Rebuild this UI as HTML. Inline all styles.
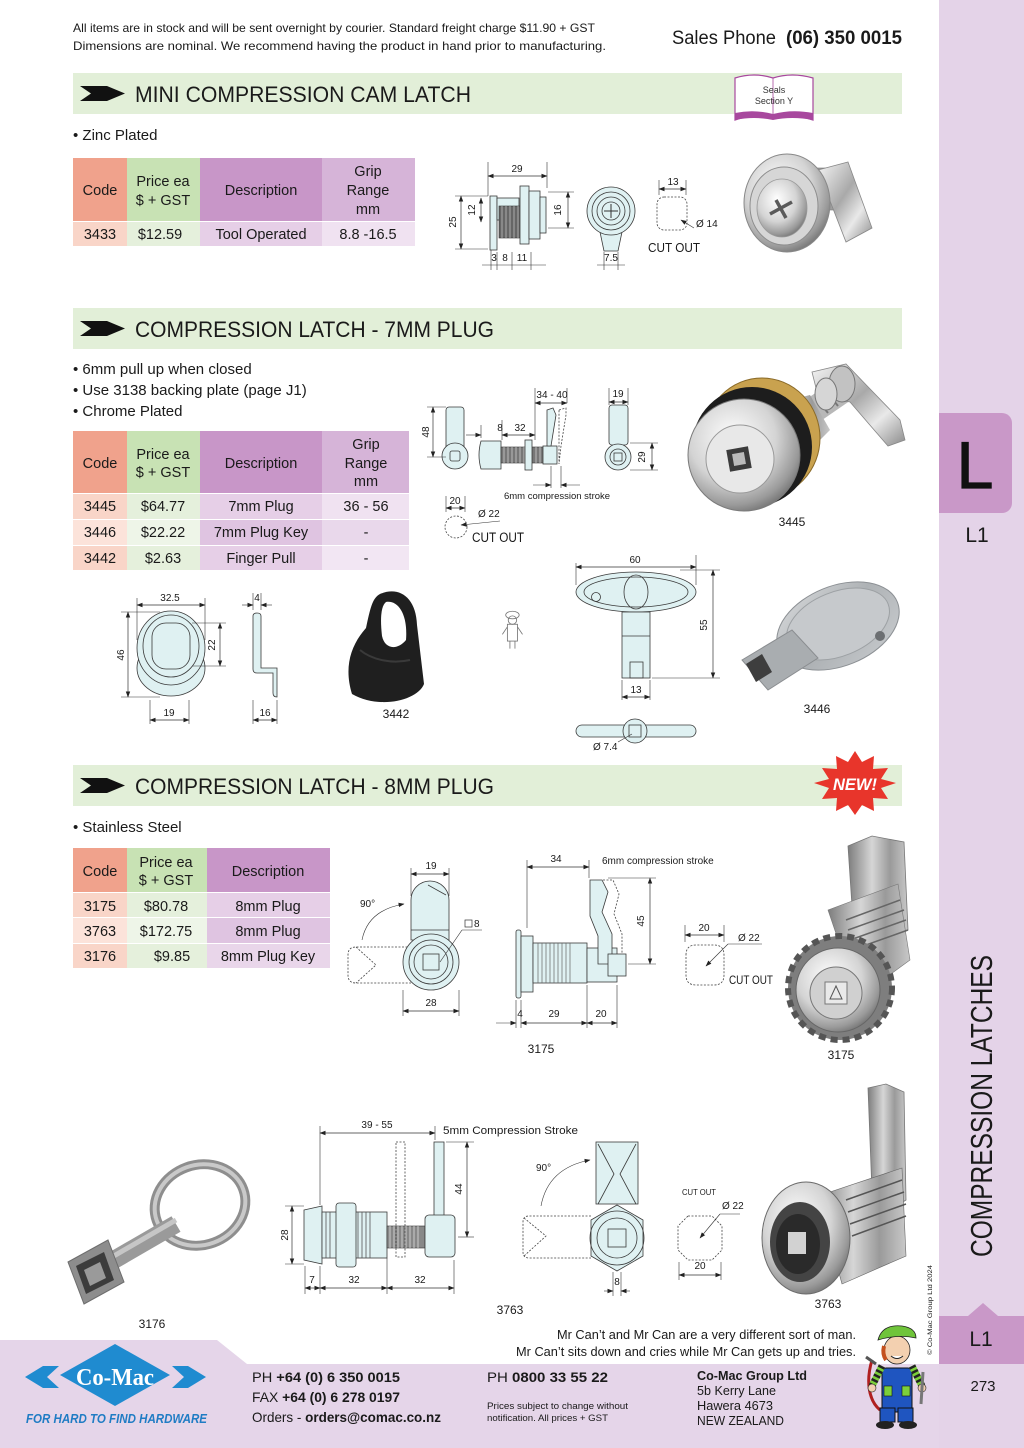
<!DOCTYPE html>
<html><head><meta charset="utf-8"><style>
html,body{margin:0;padding:0;background:#fff}
svg{display:block}
text{font-family:"Liberation Sans",sans-serif;fill:#1a1a1a}
.d{fill:#dff1f2;stroke:#3a3a3a;stroke-width:0.8}
.dn{fill:none;stroke:#3a3a3a;stroke-width:0.8}
.ds{fill:none;stroke:#444;stroke-width:0.8;stroke-dasharray:2 1.5}
.l{stroke:#333;stroke-width:0.6;fill:none}
.m{stroke:#333;stroke-width:0.7;fill:none;marker-start:url(#ar);marker-end:url(#ar)}
.t{font-size:10px}
.th{font-size:14.5px;text-anchor:middle}
</style></head><body>
<svg width="1024" height="1448" viewBox="0 0 1024 1448" xmlns="http://www.w3.org/2000/svg">
<defs>
<marker id="ar" markerWidth="6" markerHeight="6" refX="5.5" refY="3" orient="auto-start-reverse" markerUnits="userSpaceOnUse"><path d="M0,0.8 L6,3 L0,5.2z" fill="#222"/></marker>
<linearGradient id="ch" x1="0" y1="0" x2="1" y2="1"><stop offset="0" stop-color="#f6f6f6"/><stop offset="0.45" stop-color="#a9a9a9"/><stop offset="0.7" stop-color="#e9e9e9"/><stop offset="1" stop-color="#8a8a8a"/></linearGradient>
<radialGradient id="cr" cx="0.4" cy="0.35" r="0.7"><stop offset="0" stop-color="#ffffff"/><stop offset="0.55" stop-color="#d4d4d4"/><stop offset="0.85" stop-color="#9a9a9a"/><stop offset="1" stop-color="#707070"/></radialGradient>
<linearGradient id="st" x1="0" y1="0" x2="1" y2="0"><stop offset="0" stop-color="#7d7d7d"/><stop offset="0.4" stop-color="#d6d6d6"/><stop offset="0.7" stop-color="#9a9a9a"/><stop offset="1" stop-color="#c8c8c8"/></linearGradient>
<linearGradient id="zn" x1="0" y1="0" x2="1" y2="1"><stop offset="0" stop-color="#d8dadc"/><stop offset="0.5" stop-color="#aeb2b5"/><stop offset="1" stop-color="#c9cccf"/></linearGradient>
</defs>

<rect width="1024" height="1448" fill="#fff"/>
<!-- sidebar -->
<rect x="939" y="0" width="85" height="1448" fill="#e4d3e8"/>
<rect x="939" y="413" width="73" height="100" rx="10" fill="#c998c8"/>
<rect x="939" y="413" width="20" height="100" fill="#c998c8"/>
<text x="975" y="488" font-size="66" text-anchor="middle" style="fill:#111;stroke:#111;stroke-width:1.2">L</text>
<text x="977" y="542" font-size="21" text-anchor="middle">L1</text>
<text transform="translate(992,1106) rotate(-90)" font-size="31" text-anchor="middle" textLength="302" lengthAdjust="spacingAndGlyphs">COMPRESSION LATCHES</text>
<rect x="939" y="1316" width="85" height="48" fill="#c998c8"/>
<polygon points="968,1316 983,1303 998,1316" fill="#c998c8"/>
<text x="981" y="1346" font-size="21" text-anchor="middle">L1</text>
<text x="983" y="1391" font-size="15" text-anchor="middle">273</text>

<!-- footer -->
<polygon points="0,1340 217,1340 247,1364 939,1364 939,1448 0,1448" fill="#e5d5e9"/>

<!-- header -->
<text x="73" y="32" font-size="12" textLength="522" lengthAdjust="spacingAndGlyphs">All items are in stock and will be sent overnight by courier. Standard freight charge $11.90 + GST</text>
<text x="73" y="50" font-size="12" textLength="533" lengthAdjust="spacingAndGlyphs">Dimensions are nominal. We recommend having the product in hand prior to manufacturing.</text>
<text x="672" y="44" font-size="19" textLength="104" lengthAdjust="spacingAndGlyphs">Sales Phone</text>
<text x="786" y="44" font-size="19" font-weight="bold" textLength="116" lengthAdjust="spacingAndGlyphs">(06) 350 0015</text>

<!-- Section bars -->
<rect x="73" y="73" width="829" height="41" fill="#e2efd8"/>
<polygon points="80,86 107,86 125,93.5 107,101 80,101 91,93.5" fill="#111"/>
<text x="135" y="102" font-size="22" textLength="336" lengthAdjust="spacingAndGlyphs">MINI COMPRESSION CAM LATCH</text>
<rect x="73" y="308" width="829" height="41" fill="#e2efd8"/>
<polygon points="80,321 107,321 125,328.5 107,336 80,336 91,328.5" fill="#111"/>
<text x="135" y="337" font-size="22" textLength="359" lengthAdjust="spacingAndGlyphs">COMPRESSION LATCH - 7MM PLUG</text>
<rect x="73" y="765" width="829" height="41" fill="#e2efd8"/>
<polygon points="80,778 107,778 125,785.5 107,793 80,793 91,785.5" fill="#111"/>
<text x="135" y="794" font-size="22" textLength="359" lengthAdjust="spacingAndGlyphs">COMPRESSION LATCH - 8MM PLUG</text>

<!-- Seals book -->
<path d="M735,78 Q754,72 773,78 Q792,72 813,78 L813,120 Q792,113 773,119 Q754,113 735,120 Z" fill="#fff" stroke="#a8489e" stroke-width="1.2"/>
<path d="M735,113 Q754,109 773,114 Q792,109 813,113 L813,120 Q792,116 773,120 Q754,116 735,120 Z" fill="#a8489e"/>
<line x1="773" y1="78" x2="773" y2="118" stroke="#a8489e" stroke-width="0.8"/>
<text x="774" y="93" font-size="9" text-anchor="middle" style="fill:#333">Seals</text>
<text x="774" y="104" font-size="9" text-anchor="middle" style="fill:#333">Section Y</text>

<!-- NEW star -->
<polygon fill="#e8352b" points="855,751 862,762 874,756 873,769 888,768 881,779 896,783 881,788 888,799 873,798 874,811 862,805 855,815 848,805 836,811 837,798 822,799 829,788 814,783 829,779 822,768 837,769 836,756 848,762"/>
<text x="855" y="790" font-size="17" font-weight="bold" font-style="italic" text-anchor="middle" style="fill:#fff" textLength="44" lengthAdjust="spacingAndGlyphs">NEW!</text>

<!-- bullets -->
<text x="73" y="140" font-size="15">• Zinc Plated</text>
<text x="73" y="374" font-size="15">• 6mm pull up when closed</text>
<text x="73" y="395" font-size="15">• Use 3138 backing plate (page J1)</text>
<text x="73" y="416" font-size="15">• Chrome Plated</text>
<text x="73" y="832" font-size="15">• Stainless Steel</text>

<!-- Table 1 -->
<rect x="73" y="158" width="54" height="63" fill="#f0a28c"/>
<rect x="127" y="158" width="73" height="63" fill="#c8e2b4"/>
<rect x="200" y="158" width="122" height="63" fill="#c896c8"/>
<rect x="322" y="158" width="93" height="63" fill="#d6b4d8"/>
<rect x="73" y="222" width="54" height="24" fill="#f9d5c8"/>
<rect x="127" y="222" width="73" height="24" fill="#e5f0dc"/>
<rect x="200" y="222" width="122" height="24" fill="#e6cfe7"/>
<rect x="322" y="222" width="93" height="24" fill="#f0e2f1"/>
<text class="th" x="100" y="195">Code</text>
<text class="th" x="163" y="186">Price ea</text>
<text class="th" x="163" y="205">$ + GST</text>
<text class="th" x="261" y="195">Description</text>
<text class="th" x="368" y="176">Grip</text>
<text class="th" x="368" y="195">Range</text>
<text class="th" x="368" y="214">mm</text>
<text class="th" x="100" y="239">3433</text>
<text class="th" x="160" y="239">$12.59</text>
<text class="th" x="261" y="239">Tool Operated</text>
<text class="th" x="368" y="239">8.8 -16.5</text>

<!-- Table 2 -->
<rect x="73" y="431" width="54" height="62" fill="#f0a28c"/>
<rect x="127" y="431" width="73" height="62" fill="#c8e2b4"/>
<rect x="200" y="431" width="122" height="62" fill="#c896c8"/>
<rect x="322" y="431" width="87" height="62" fill="#d6b4d8"/>
<rect x="73" y="494" width="54" height="25" fill="#f9d5c8"/>
<rect x="127" y="494" width="73" height="25" fill="#e5f0dc"/>
<rect x="200" y="494" width="122" height="25" fill="#e6cfe7"/>
<rect x="322" y="494" width="87" height="25" fill="#f0e2f1"/>
<rect x="73" y="520" width="54" height="25" fill="#fce3da"/>
<rect x="127" y="520" width="73" height="25" fill="#eef5e8"/>
<rect x="200" y="520" width="122" height="25" fill="#dfc4e1"/>
<rect x="322" y="520" width="87" height="25" fill="#e9d8eb"/>
<rect x="73" y="546" width="54" height="24" fill="#f9d5c8"/>
<rect x="127" y="546" width="73" height="24" fill="#e5f0dc"/>
<rect x="200" y="546" width="122" height="24" fill="#e6cfe7"/>
<rect x="322" y="546" width="87" height="24" fill="#f2e6f3"/>
<text class="th" x="100" y="468">Code</text>
<text class="th" x="163" y="459">Price ea</text>
<text class="th" x="163" y="477">$ + GST</text>
<text class="th" x="261" y="468">Description</text>
<text class="th" x="366" y="449">Grip</text>
<text class="th" x="366" y="468">Range</text>
<text class="th" x="366" y="486">mm</text>
<text class="th" x="100" y="511">3445</text>
<text class="th" x="163" y="511">$64.77</text>
<text class="th" x="261" y="511">7mm Plug</text>
<text class="th" x="366" y="511">36 - 56</text>
<text class="th" x="100" y="537">3446</text>
<text class="th" x="163" y="537">$22.22</text>
<text class="th" x="261" y="537">7mm Plug Key</text>
<text class="th" x="366" y="537">-</text>
<text class="th" x="100" y="563">3442</text>
<text class="th" x="163" y="563">$2.63</text>
<text class="th" x="261" y="563">Finger Pull</text>
<text class="th" x="366" y="563">-</text>

<!-- Table 3 -->
<rect x="73" y="848" width="54" height="44" fill="#f0a28c"/>
<rect x="127" y="848" width="80" height="44" fill="#c8e2b4"/>
<rect x="207" y="848" width="123" height="44" fill="#c896c8"/>
<rect x="73" y="893" width="54" height="24" fill="#f9d5c8"/>
<rect x="127" y="893" width="80" height="24" fill="#e5f0dc"/>
<rect x="207" y="893" width="123" height="24" fill="#e6cfe7"/>
<rect x="73" y="918" width="54" height="25" fill="#fce3da"/>
<rect x="127" y="918" width="80" height="25" fill="#eef5e8"/>
<rect x="207" y="918" width="123" height="25" fill="#dfc4e1"/>
<rect x="73" y="944" width="54" height="24" fill="#f9d5c8"/>
<rect x="127" y="944" width="80" height="24" fill="#e5f0dc"/>
<rect x="207" y="944" width="123" height="24" fill="#e9d6ea"/>
<text class="th" x="100" y="876">Code</text>
<text class="th" x="166" y="867">Price ea</text>
<text class="th" x="166" y="885">$ + GST</text>
<text class="th" x="268" y="876">Description</text>
<text class="th" x="100" y="911">3175</text>
<text class="th" x="166" y="911">$80.78</text>
<text class="th" x="268" y="911">8mm Plug</text>
<text class="th" x="100" y="936">3763</text>
<text class="th" x="166" y="936">$172.75</text>
<text class="th" x="268" y="936">8mm Plug</text>
<text class="th" x="100" y="961">3176</text>
<text class="th" x="172" y="961">$9.85</text>
<text class="th" x="268" y="961">8mm Plug Key</text>

<!-- ===== Section 1 drawings ===== -->
<g>
<line class="l" x1="488" y1="162" x2="488" y2="196"/><line class="l" x1="547" y1="162" x2="547" y2="188"/>
<line class="m" x1="488" y1="176" x2="547" y2="176"/>
<text class="t" x="517" y="172" text-anchor="middle">29</text>
<rect class="d" x="490" y="196" width="7" height="54"/>
<rect class="d" x="497" y="198" width="22" height="22"/>
<rect x="499" y="206" width="22" height="32" fill="#666" stroke="#333" stroke-width="0.6"/>
<path d="M502,206v32M506,206v32M510,206v32M514,206v32M518,206v32" stroke="#bbb" stroke-width="0.8"/>
<rect class="d" x="520" y="186" width="9" height="58"/>
<rect class="d" x="529" y="191" width="11" height="48"/>
<rect class="d" x="540" y="197" width="6" height="36"/>
<line class="l" x1="455" y1="196" x2="488" y2="196"/><line class="l" x1="455" y1="249" x2="488" y2="249"/>
<line class="m" x1="461" y1="196" x2="461" y2="249"/>
<text class="t" transform="translate(456,222) rotate(-90)" text-anchor="middle">25</text>
<line class="m" x1="481" y1="198" x2="481" y2="222"/>
<text class="t" transform="translate(475,210) rotate(-90)" text-anchor="middle">12</text>
<line class="l" x1="548" y1="192" x2="574" y2="192"/><line class="l" x1="548" y1="228" x2="574" y2="228"/>
<line class="m" x1="568" y1="192" x2="568" y2="228"/>
<text class="t" transform="translate(561,210) rotate(-90)" text-anchor="middle">16</text>
<line class="l" x1="491" y1="250" x2="491" y2="270"/><line class="l" x1="497" y1="252" x2="497" y2="270"/><line class="l" x1="512" y1="252" x2="512" y2="270"/><line class="l" x1="531" y1="252" x2="531" y2="270"/>
<line class="l" x1="482" y1="265" x2="546" y2="265"/>
<text class="t" x="494" y="261" text-anchor="middle">3</text>
<text class="t" x="505" y="261" text-anchor="middle">8</text>
<text class="t" x="522" y="261" text-anchor="middle">11</text>
<!-- front view -->
<polygon class="d" points="600,232 622,232 618,251 604,251"/>
<circle class="d" cx="611" cy="211" r="24"/>
<circle class="dn" cx="611" cy="211" r="19"/>
<circle class="dn" cx="611" cy="211" r="14"/>
<circle class="dn" cx="611" cy="211" r="9"/>
<path d="M611,204v14M604,211h14" stroke="#333" stroke-width="1"/>
<line class="l" x1="604" y1="252" x2="604" y2="270"/><line class="l" x1="618" y1="252" x2="618" y2="270"/>
<line class="l" x1="597" y1="265" x2="625" y2="265"/>
<text class="t" x="611" y="261" text-anchor="middle">7.5</text>
<!-- cutout -->
<path class="ds" d="M664,197 h16 a7,7 0 0 1 7,7 v19 a7,7 0 0 1 -7,7 h-16 a7,7 0 0 1 -7,-7 v-19 a7,7 0 0 1 7,-7z"/>
<line class="l" x1="659" y1="180" x2="659" y2="195"/><line class="l" x1="686" y1="180" x2="686" y2="195"/>
<line class="m" x1="659" y1="189" x2="686" y2="189"/>
<text class="t" x="673" y="185" text-anchor="middle">13</text>
<line class="l" x1="681" y1="220" x2="694" y2="228" marker-start="url(#ar)"/>
<text class="t" x="696" y="227">Ø 14</text>
<text x="648" y="252" font-size="13" textLength="52" lengthAdjust="spacingAndGlyphs">CUT OUT</text>
<!-- photo cam latch -->
<rect x="812" y="168" width="30" height="42" fill="#9d9d9d" stroke="#777" stroke-width="0.6"/>
<path d="M812,175h30M812,183h30M812,191h30M812,199h30" stroke="#555" stroke-width="2"/>
<polygon points="818,170 848,162 872,228 846,242" fill="url(#ch)" stroke="#888" stroke-width="0.8"/>
<ellipse cx="787" cy="203" rx="43" ry="49" fill="url(#cr)" stroke="#888" stroke-width="1"/>
<ellipse cx="784" cy="206" rx="34" ry="39" fill="#d6d6d6" stroke="#8d8d8d" stroke-width="1"/>
<ellipse cx="782" cy="208" rx="25" ry="29" fill="url(#cr)" stroke="#999" stroke-width="0.8"/>
<path d="M770,214 L792,202 M776,200 L786,218" stroke="#5a5a5a" stroke-width="3.5"/>
</g>

<!-- ===== Section 2 drawings ===== -->
<g>
<!-- front view -->
<rect class="d" x="446" y="407" width="18" height="44" rx="3"/>
<circle class="d" cx="455" cy="456" r="13"/>
<rect class="dn" x="450" y="451" width="10" height="10" rx="2"/>
<line class="l" x1="427" y1="407" x2="446" y2="407"/><line class="l" x1="427" y1="457" x2="446" y2="457"/>
<line class="m" x1="433" y1="407" x2="433" y2="457"/>
<text class="t" transform="translate(429,432) rotate(-90)" text-anchor="middle">48</text>
<!-- side view -->
<path class="d" d="M481,441 h20 v28 h-20 q-4,-14 0,-28z"/>
<rect x="501" y="447" width="45" height="16" fill="#777" stroke="#333" stroke-width="0.6"/>
<path d="M504,447v16M508,447v16M512,447v16M516,447v16M520,447v16M524,447v16M536,447v16M540,447v16" stroke="#ccc" stroke-width="0.8"/>
<rect class="d" x="525" y="440" width="7" height="30"/>
<rect class="d" x="543" y="446" width="14" height="18"/>
<polygon class="d" points="547,410 553,408 556,415 551,446 547,446"/>
<polygon class="ds" points="559,410 566,408 566,415 561,446 559,464"/>
<line class="l" x1="481" y1="425" x2="481" y2="438"/><line class="l" x1="502" y1="420" x2="502" y2="440"/>
<line class="l" x1="466" y1="435" x2="481" y2="435" marker-end="url(#ar)"/>
<line class="m" x1="502" y1="435" x2="535" y2="435"/>
<line class="l" x1="535" y1="388" x2="535" y2="440"/><line class="l" x1="567" y1="388" x2="567" y2="403"/>
<line class="m" x1="535" y1="403" x2="567" y2="403"/>
<text class="t" x="500" y="431" text-anchor="middle">8</text>
<text class="t" x="520" y="431" text-anchor="middle">32</text>
<text class="t" x="552" y="398" text-anchor="middle">34 - 40</text>
<line class="l" x1="551" y1="466" x2="551" y2="488"/><line class="l" x1="561" y1="466" x2="561" y2="488"/>
<line class="l" x1="533" y1="485" x2="551" y2="485" marker-end="url(#ar)"/>
<line class="l" x1="580" y1="485" x2="561" y2="485" marker-end="url(#ar)"/>
<text x="557" y="499" font-size="9.5" text-anchor="middle">6mm compression stroke</text>
<!-- second view -->
<rect class="d" x="609" y="405" width="19" height="40" rx="3"/>
<circle class="d" cx="618" cy="457" r="13"/>
<circle class="dn" cx="618" cy="457" r="8"/>
<rect class="dn" x="614" y="453" width="8" height="8"/>
<line class="l" x1="609" y1="388" x2="609" y2="405"/><line class="l" x1="628" y1="388" x2="628" y2="405"/>
<line class="m" x1="609" y1="402" x2="628" y2="402"/>
<text class="t" x="618" y="397" text-anchor="middle">19</text>
<line class="l" x1="630" y1="443" x2="658" y2="443"/><line class="l" x1="630" y1="470" x2="658" y2="470"/>
<line class="m" x1="652" y1="443" x2="652" y2="470"/>
<text class="t" transform="translate(645,457) rotate(-90)" text-anchor="middle">29</text>
<!-- cutout -->
<line class="l" x1="446" y1="496" x2="446" y2="512"/><line class="l" x1="465" y1="496" x2="465" y2="512"/>
<line class="m" x1="446" y1="508" x2="465" y2="508"/>
<text class="t" x="455" y="504" text-anchor="middle">20</text>
<circle class="ds" cx="456" cy="527" r="11"/>
<line class="l" x1="461" y1="525" x2="500" y2="521" marker-start="url(#ar)"/>
<text class="t" x="478" y="517">Ø 22</text>
<text x="472" y="542" font-size="13.5" textLength="52" lengthAdjust="spacingAndGlyphs">CUT OUT</text>
<!-- photo 3445 -->
<line x1="770" y1="440" x2="850" y2="385" stroke="#b8b8b8" stroke-width="26"/>
<path d="M790,424 l8,10 M800,417 l8,10 M810,410 l8,10 M820,403 l8,10 M830,396 l8,10" stroke="#777" stroke-width="2"/>
<polygon points="812,372 846,364 900,420 905,440 888,446 850,402 818,396" fill="url(#ch)" stroke="#888" stroke-width="0.8"/>
<ellipse cx="842" cy="384" rx="13" ry="18" fill="#c2c2c2" stroke="#777"/>
<ellipse cx="826" cy="394" rx="11" ry="16" fill="#d6d6d6" stroke="#777"/>
<polygon points="770,405 810,395 830,430 790,470" fill="url(#st)"/>
<ellipse cx="762" cy="438" rx="58" ry="60" fill="#c9a24f" stroke="#8a6a28"/>
<ellipse cx="752" cy="447" rx="60" ry="60" fill="#1d1d1d"/>
<ellipse cx="744" cy="455" rx="56" ry="56" fill="url(#cr)" stroke="#7a7a7a"/>
<ellipse cx="740" cy="459" rx="34" ry="34" fill="#e8e8e8" stroke="#999"/>
<rect x="728" y="448" width="22" height="22" fill="#3b3b3b" transform="rotate(-10 739 459)"/>
<rect x="733" y="453" width="12" height="12" fill="#bbb" transform="rotate(-10 739 459)"/>
<text x="792" y="526" font-size="12" text-anchor="middle">3445</text>

<!-- finger pull drawing -->
<ellipse class="d" cx="171" cy="668" rx="34" ry="28"/>
<ellipse class="d" cx="171" cy="648" rx="34" ry="37"/>
<ellipse class="dn" cx="171" cy="646" rx="28" ry="31"/>
<rect class="d" x="152" y="623" width="38" height="46" rx="14"/>
<line class="l" x1="137" y1="598" x2="137" y2="640"/><line class="l" x1="205" y1="598" x2="205" y2="640"/>
<line class="m" x1="137" y1="605" x2="205" y2="605"/>
<text class="t" x="170" y="601" text-anchor="middle">32.5</text>
<line class="l" x1="121" y1="612" x2="160" y2="612"/><line class="l" x1="121" y1="697" x2="160" y2="697"/>
<line class="m" x1="128" y1="612" x2="128" y2="697"/>
<text class="t" transform="translate(124,655) rotate(-90)" text-anchor="middle">46</text>
<line class="l" x1="192" y1="623" x2="226" y2="623"/><line class="l" x1="192" y1="666" x2="226" y2="666"/>
<line class="m" x1="220" y1="623" x2="220" y2="666"/>
<text class="t" transform="translate(215,645) rotate(-90)" text-anchor="middle">22</text>
<line class="l" x1="150" y1="700" x2="150" y2="724"/><line class="l" x1="189" y1="700" x2="189" y2="724"/>
<line class="m" x1="150" y1="720" x2="189" y2="720"/>
<text class="t" x="169" y="716" text-anchor="middle">19</text>
<!-- L profile -->
<path class="d" d="M253,616 q0,-3 4,-3 q4,0 4,3 v52 h16 v29 q-4,0 -4,-4 v-20 h-16 q-4,0 -4,-4z"/>
<line class="l" x1="253" y1="593" x2="253" y2="610"/><line class="l" x1="261" y1="593" x2="261" y2="610"/>
<line class="l" x1="242" y1="605" x2="253" y2="605" marker-end="url(#ar)"/>
<line class="l" x1="272" y1="605" x2="261" y2="605" marker-end="url(#ar)"/>
<text class="t" x="257" y="601" text-anchor="middle">4</text>
<line class="l" x1="253" y1="700" x2="253" y2="724"/><line class="l" x1="277" y1="700" x2="277" y2="724"/>
<line class="m" x1="253" y1="720" x2="277" y2="720"/>
<text class="t" x="265" y="716" text-anchor="middle">16</text>
<!-- finger pull photo -->
<path d="M380,594 C398,586 416,596 417,625 L424,684 C418,700 380,710 352,694 C344,668 350,646 366,628 C370,610 372,598 380,594Z" fill="#1f1f1f"/>
<path d="M386,602 C398,600 408,614 406,640 C398,650 385,650 382,636 C380,618 381,606 386,602Z" fill="#fff"/>
<path d="M360,650 C372,660 392,664 410,660" stroke="#3a3a3a" stroke-width="2" fill="none"/>
<text x="396" y="718" font-size="12" text-anchor="middle">3442</text>
<!-- tiny mr can -->
<g transform="translate(499,610) scale(0.42)" opacity="0.8">
<ellipse cx="32" cy="12" rx="16" ry="9" fill="none" stroke="#555" stroke-width="2"/>
<circle cx="32" cy="24" r="10" fill="none" stroke="#555" stroke-width="2"/>
<rect x="20" y="34" width="24" height="40" fill="none" stroke="#555" stroke-width="2"/>
<path d="M20,40 l-12,18 M44,40 l12,18 M26,74 v18 M38,74 v18" stroke="#555" stroke-width="2"/>
</g>
<!-- key drawing -->
<ellipse class="d" cx="636" cy="592" rx="60" ry="20"/>
<ellipse class="dn" cx="636" cy="592" rx="52" ry="15"/>
<circle class="dn" cx="596" cy="597" r="4.5"/>
<ellipse class="dn" cx="636" cy="592" rx="12" ry="17"/>
<rect class="d" x="622" y="612" width="28" height="66"/>
<line class="dn" x1="622" y1="636" x2="650" y2="636"/>
<rect class="dn" x="630" y="662" width="13" height="16"/>
<line class="l" x1="576" y1="563" x2="576" y2="585"/><line class="l" x1="696" y1="555" x2="696" y2="585"/>
<line class="m" x1="576" y1="567" x2="696" y2="567"/>
<text class="t" x="635" y="563" text-anchor="middle">60</text>
<line class="l" x1="680" y1="570" x2="720" y2="570"/><line class="l" x1="652" y1="678" x2="720" y2="678"/>
<line class="m" x1="713" y1="570" x2="713" y2="678"/>
<text class="t" transform="translate(707,625) rotate(-90)" text-anchor="middle">55</text>
<line class="l" x1="622" y1="680" x2="622" y2="700"/><line class="l" x1="650" y1="680" x2="650" y2="700"/>
<line class="m" x1="622" y1="697" x2="650" y2="697"/>
<text class="t" x="636" y="693" text-anchor="middle">13</text>
<rect class="d" x="576" y="725" width="120" height="12" rx="6"/>
<circle class="d" cx="635" cy="731" r="12"/>
<rect class="dn" x="629" y="725" width="12" height="12"/>
<line class="l" x1="618" y1="742" x2="632" y2="734"/>
<text class="t" x="593" y="750">Ø 7.4</text>
<!-- key photo 3446 -->
<ellipse cx="838" cy="626" rx="64" ry="40" transform="rotate(-22 838 626)" fill="url(#zn)" stroke="#8c9094" stroke-width="1"/>
<ellipse cx="838" cy="624" rx="54" ry="32" transform="rotate(-22 838 624)" fill="#c6c9cc" stroke="#9da1a4" stroke-width="1"/>
<circle cx="880" cy="636" r="5" fill="#6c6f72"/>
<polygon points="742,660 792,630 818,658 768,690" fill="#a9adb0" stroke="#8a8d90"/>
<polygon points="746,664 762,654 772,672 756,682" fill="#3e3e3e"/>
<text x="817" y="713" font-size="12" text-anchor="middle">3446</text>
</g>

<!-- ===== Section 3 drawings ===== -->
<g>
<!-- 3175 front -->
<path class="ds" d="M411,947 h-55 q-8,0 -8,8 v20 q0,8 8,8 h55"/>
<path class="ds" d="M356,947 l20,18 l-20,18"/>
<path class="d" d="M411,900 a19,19 0 0 1 38,0 v40 h-38z"/>
<line class="dn" x1="428" y1="885" x2="446" y2="895"/>
<line class="dn" x1="411" y1="930" x2="449" y2="930"/>
<circle class="d" cx="431" cy="962" r="28"/>
<circle class="dn" cx="431" cy="962" r="22"/>
<circle class="dn" cx="431" cy="962" r="17"/>
<rect class="dn" x="423" y="954" width="16" height="16"/>
<path d="M362,940 Q368,910 404,904" class="l" marker-end="url(#ar)"/>
<text class="t" x="360" y="907">90°</text>
<line class="l" x1="411" y1="868" x2="411" y2="896"/><line class="l" x1="449" y1="868" x2="449" y2="896"/>
<line class="m" x1="411" y1="874" x2="449" y2="874"/>
<text class="t" x="431" y="869" text-anchor="middle">19</text>
<line class="l" x1="440" y1="962" x2="462" y2="930"/><line class="l" x1="462" y1="930" x2="482" y2="930"/>
<rect x="465" y="920" width="7" height="7" fill="none" stroke="#333" stroke-width="0.7"/>
<text class="t" x="474" y="927">8</text>
<line class="l" x1="403" y1="990" x2="403" y2="1016"/><line class="l" x1="459" y1="990" x2="459" y2="1016"/>
<line class="m" x1="403" y1="1011" x2="459" y2="1011"/>
<text class="t" x="431" y="1006" text-anchor="middle">28</text>
<!-- 3175 side -->
<rect class="d" x="516" y="930" width="5" height="68" rx="2"/>
<rect class="d" x="521" y="936" width="12" height="56"/>
<rect x="533" y="943" width="54" height="40" fill="#dff1f2" stroke="#3a3a3a" stroke-width="0.8"/>
<path d="M538,943v40M542,943v40M546,943v40M550,943v40M554,943v40M558,943v40M562,943v40M566,943v40M570,943v40" stroke="#666" stroke-width="0.7"/>
<rect class="d" x="587" y="948" width="30" height="34"/>
<path class="d" d="M590,880 h12 l6,12 l-6,20 l10,22 v30 h-14 v-28 l-8,-20z"/>
<path class="ds" d="M603,880 h10 l6,14 l-5,20 l8,20 v28"/>
<rect class="d" x="608" y="954" width="18" height="22"/>
<line class="l" x1="527" y1="860" x2="527" y2="928"/><line class="l" x1="589" y1="860" x2="589" y2="878"/>
<line class="m" x1="527" y1="867" x2="589" y2="867"/>
<text class="t" x="556" y="862" text-anchor="middle">34</text>
<text x="602" y="864" font-size="10">6mm compression stroke</text>
<line class="l" x1="608" y1="878" x2="656" y2="878"/><line class="l" x1="628" y1="964" x2="656" y2="964"/>
<line class="m" x1="650" y1="878" x2="650" y2="964"/>
<text class="t" transform="translate(644,921) rotate(-90)" text-anchor="middle">45</text>
<line class="l" x1="516" y1="1000" x2="516" y2="1028"/><line class="l" x1="521" y1="1000" x2="521" y2="1028"/><line class="l" x1="587" y1="985" x2="587" y2="1028"/><line class="l" x1="617" y1="985" x2="617" y2="1028"/>
<line class="l" x1="496" y1="1023" x2="516" y2="1023" marker-end="url(#ar)"/>
<line class="m" x1="521" y1="1023" x2="587" y2="1023"/>
<line class="m" x1="587" y1="1023" x2="617" y2="1023"/>
<text class="t" x="520" y="1017" text-anchor="middle">4</text>
<text class="t" x="554" y="1017" text-anchor="middle">29</text>
<text class="t" x="601" y="1017" text-anchor="middle">20</text>
<text x="541" y="1053" font-size="12" text-anchor="middle">3175</text>
<!-- cutout -->
<path class="ds" d="M686,955 q0,-10 10,-10 h18 q10,0 10,10 v20 q0,10 -10,10 h-18 q-10,0 -10,-10z"/>
<line class="l" x1="685" y1="925" x2="685" y2="942"/><line class="l" x1="724" y1="925" x2="724" y2="942"/>
<line class="m" x1="685" y1="935" x2="724" y2="935"/>
<text class="t" x="704" y="931" text-anchor="middle">20</text>
<line class="l" x1="706" y1="966" x2="728" y2="944" marker-start="url(#ar)"/><line class="l" x1="728" y1="944" x2="762" y2="944"/>
<text class="t" x="738" y="941">Ø 22</text>
<text x="729" y="984" font-size="11.5" textLength="44" lengthAdjust="spacingAndGlyphs">CUT OUT</text>
<!-- photo 3175 -->
<polygon points="848,846 872,836 904,842 908,930 882,938 872,902 852,906" fill="url(#st)" stroke="#777" stroke-width="0.8"/>
<polygon points="828,910 898,884 910,960 858,998" fill="url(#st)" stroke="#777" stroke-width="0.6"/>
<path d="M846,920 l54,-20 M848,930 l56,-20 M850,940 l56,-20 M852,950 l56,-20" stroke="#666" stroke-width="1.5"/>
<circle cx="840" cy="988" r="52" fill="#7e7e7e" stroke="#555" stroke-width="6" stroke-dasharray="7 5"/>
<circle cx="838" cy="990" r="42" fill="url(#cr)" stroke="#666"/>
<circle cx="836" cy="993" r="26" fill="#d0d0d0" stroke="#777"/>
<rect x="825" y="982" width="22" height="22" fill="#e9e9e9" stroke="#777"/>
<polygon points="836,986 842,999 830,999" fill="none" stroke="#555" stroke-width="1"/>
<text x="841" y="1059" font-size="12" text-anchor="middle">3175</text>

<!-- 3176 key photo -->
<ellipse cx="200" cy="1205" rx="46" ry="40" transform="rotate(-20 200 1205)" fill="none" stroke="#8e8e8e" stroke-width="10"/>
<ellipse cx="200" cy="1205" rx="46" ry="40" transform="rotate(-20 200 1205)" fill="none" stroke="#c9c9c9" stroke-width="4"/>
<line x1="100" y1="1268" x2="176" y2="1224" stroke="#9a9a9a" stroke-width="18"/>
<line x1="100" y1="1264" x2="176" y2="1220" stroke="#c6c6c6" stroke-width="5"/>
<polygon points="68,1262 108,1240 124,1282 84,1304" fill="#8d8d8d" stroke="#6d6d6d"/>
<polygon points="76,1266 104,1252 114,1280 86,1294" fill="#3c3c3c"/>
<polygon points="84,1270 100,1262 106,1278 90,1286" fill="#9a9a9a"/>
<text x="152" y="1328" font-size="12" text-anchor="middle">3176</text>

<!-- 3763 side -->
<polygon class="d" points="304,1210 322,1206 322,1264 304,1260"/>
<rect class="d" x="322" y="1212" width="65" height="46"/>
<path d="M326,1212v46M330,1212v46M358,1212v46M362,1212v46M366,1212v46M370,1212v46" stroke="#555" stroke-width="0.8"/>
<rect class="d" x="336" y="1203" width="20" height="64" rx="3"/>
<rect x="387" y="1226" width="38" height="22" fill="#888" stroke="#333" stroke-width="0.6"/>
<path d="M390,1226v22M394,1226v22M398,1226v22M402,1226v22M406,1226v22M410,1226v22M414,1226v22M418,1226v22" stroke="#ddd" stroke-width="0.8"/>
<rect class="ds" x="396" y="1142" width="9" height="115"/>
<rect class="d" x="434" y="1142" width="10" height="114"/>
<rect class="d" x="425" y="1215" width="30" height="42" rx="4"/>
<line class="l" x1="320" y1="1126" x2="320" y2="1205"/><line class="l" x1="435" y1="1126" x2="435" y2="1140"/>
<line class="m" x1="320" y1="1133" x2="435" y2="1133"/>
<text class="t" x="377" y="1128" text-anchor="middle">39 - 55</text>
<text x="443" y="1134" font-size="11" textLength="135" lengthAdjust="spacingAndGlyphs">5mm Compression Stroke</text>
<line class="l" x1="446" y1="1142" x2="474" y2="1142"/><line class="l" x1="458" y1="1237" x2="474" y2="1237"/>
<line class="m" x1="467" y1="1142" x2="467" y2="1237"/>
<text class="t" transform="translate(462,1189) rotate(-90)" text-anchor="middle">44</text>
<line class="l" x1="285" y1="1206" x2="304" y2="1206"/><line class="l" x1="285" y1="1264" x2="304" y2="1264"/>
<line class="m" x1="292" y1="1206" x2="292" y2="1264"/>
<text class="t" transform="translate(288,1235) rotate(-90)" text-anchor="middle">28</text>
<line class="l" x1="305" y1="1266" x2="305" y2="1294"/><line class="l" x1="320" y1="1266" x2="320" y2="1294"/><line class="l" x1="387" y1="1258" x2="387" y2="1294"/><line class="l" x1="454" y1="1260" x2="454" y2="1294"/>
<line class="m" x1="305" y1="1288" x2="320" y2="1288"/>
<line class="m" x1="320" y1="1288" x2="387" y2="1288"/>
<line class="m" x1="387" y1="1288" x2="454" y2="1288"/>
<text class="t" x="312" y="1283" text-anchor="middle">7</text>
<text class="t" x="354" y="1283" text-anchor="middle">32</text>
<text class="t" x="420" y="1283" text-anchor="middle">32</text>
<text x="510" y="1314" font-size="12" text-anchor="middle">3763</text>
<!-- 3763 front -->
<path class="ds" d="M591,1216 h-62 q-6,0 -6,6 v30 q0,6 6,6 h62"/>
<path class="ds" d="M524,1218 l22,18 l-22,20"/>
<rect class="d" x="596" y="1142" width="42" height="62"/>
<path class="dn" d="M598,1144 l16,30 l-16,30 M636,1144 l-16,30 l16,30"/>
<polygon class="d" points="617,1205 643,1220 643,1256 617,1271 591,1256 591,1220"/>
<circle class="dn" cx="617" cy="1238" r="27"/>
<circle class="dn" cx="617" cy="1238" r="20"/>
<rect class="dn" x="608" y="1229" width="18" height="18"/>
<path d="M541,1206 Q548,1168 590,1160" class="l" marker-end="url(#ar)"/>
<text class="t" x="536" y="1171">90°</text>
<line class="l" x1="613" y1="1272" x2="613" y2="1296"/><line class="l" x1="621" y1="1272" x2="621" y2="1296"/>
<line class="l" x1="604" y1="1291" x2="613" y2="1291" marker-end="url(#ar)"/>
<line class="l" x1="630" y1="1291" x2="621" y2="1291" marker-end="url(#ar)"/>
<text class="t" x="617" y="1285" text-anchor="middle">8</text>
<!-- cutout octagon -->
<polygon class="ds" points="688,1216 712,1216 722,1226 722,1250 712,1260 688,1260 678,1250 678,1226"/>
<line class="l" x1="700" y1="1238" x2="720" y2="1214" marker-start="url(#ar)"/><line class="l" x1="720" y1="1214" x2="740" y2="1214"/>
<text class="t" x="722" y="1209">Ø 22</text>
<text x="682" y="1195" font-size="8.5" textLength="34" lengthAdjust="spacingAndGlyphs">CUT OUT</text>
<line class="l" x1="679" y1="1262" x2="679" y2="1280"/><line class="l" x1="721" y1="1262" x2="721" y2="1280"/>
<line class="m" x1="679" y1="1275" x2="721" y2="1275"/>
<text class="t" x="700" y="1269" text-anchor="middle">20</text>
<!-- photo 3763 -->
<polygon points="868,1088 886,1084 904,1092 906,1200 884,1214 872,1192" fill="url(#st)" stroke="#777" stroke-width="0.8"/>
<polygon points="818,1196 902,1168 906,1256 842,1284" fill="url(#st)" stroke="#666" stroke-width="0.6"/>
<path d="M846,1200 l56,-20 M848,1212 l56,-20 M850,1224 l56,-20 M852,1236 l54,-20" stroke="#555" stroke-width="1.5"/>
<ellipse cx="806" cy="1238" rx="44" ry="56" fill="url(#cr)" stroke="#6a6a6a" stroke-width="1"/>
<ellipse cx="800" cy="1242" rx="30" ry="40" fill="#444"/>
<ellipse cx="798" cy="1244" rx="22" ry="30" fill="#2a2a2a"/>
<rect x="788" y="1232" width="18" height="22" fill="#d2d2d2"/>
<text x="828" y="1308" font-size="12" text-anchor="middle">3763</text>
</g>

<!-- quote -->
<text x="856" y="1339" font-size="12.5" text-anchor="end" textLength="299" lengthAdjust="spacingAndGlyphs">Mr Can’t and Mr Can are a very different sort of man.</text>
<text x="856" y="1356" font-size="12.5" text-anchor="end" textLength="340" lengthAdjust="spacingAndGlyphs">Mr Can’t sits down and cries while Mr Can gets up and tries.</text>
<text transform="translate(932,1310) rotate(-90)" font-size="6.5" text-anchor="middle" textLength="90" lengthAdjust="spacingAndGlyphs">© Co-Mac Group Ltd 2024</text>

<!-- Mr Can -->
<g>
<path d="M872,1360 C866,1380 868,1400 880,1410" stroke="#b02020" stroke-width="3" fill="none"/>
<line x1="866" y1="1357" x2="876" y2="1364" stroke="#555" stroke-width="3"/>
<rect x="882" y="1368" width="30" height="44" rx="4" fill="#1f55c0" stroke="#111" stroke-width="1"/>
<rect x="880" y="1408" width="15" height="14" fill="#1f55c0" stroke="#111" stroke-width="1"/>
<rect x="898" y="1408" width="15" height="14" fill="#1f55c0" stroke="#111" stroke-width="1"/>
<ellipse cx="885" cy="1425" rx="9" ry="4" fill="#222"/>
<ellipse cx="908" cy="1425" rx="9" ry="4" fill="#222"/>
<rect x="884" y="1386" width="8" height="10" fill="#7ccf3a" stroke="#111" stroke-width="0.6"/>
<rect x="902" y="1386" width="8" height="10" fill="#7ccf3a" stroke="#111" stroke-width="0.6"/>
<path d="M882,1366 l-10,20" stroke="#7ccf3a" stroke-width="7"/>
<path d="M882,1366 l-10,20" stroke="#222" stroke-width="7" stroke-dasharray="2.5 2.5"/>
<path d="M912,1366 l10,20" stroke="#7ccf3a" stroke-width="7"/>
<path d="M912,1366 l10,20" stroke="#222" stroke-width="7" stroke-dasharray="2.5 2.5"/>
<circle cx="872" cy="1388" r="4" fill="#f3d0b0" stroke="#222" stroke-width="0.6"/>
<circle cx="922" cy="1388" r="4" fill="#f3d0b0" stroke="#222" stroke-width="0.6"/>
<line x1="923" y1="1372" x2="921" y2="1404" stroke="#777" stroke-width="3"/>
<ellipse cx="897" cy="1350" rx="13" ry="14" fill="#f3d0b0" stroke="#222" stroke-width="0.8"/>
<path d="M884,1346 q-2,8 2,14" stroke="#c4501e" stroke-width="4" fill="none"/>
<path d="M878,1340 q4,-16 24,-14 q14,2 14,12 q-18,-4 -38,2z" fill="#6fc43a" stroke="#222" stroke-width="0.8"/>
<path d="M891,1356 q6,5 12,0" stroke="#222" stroke-width="1" fill="#fff"/>
</g>

<!-- logo -->
<polygon points="115,1344 170,1375 115,1406 60,1375" fill="#1f8bd0"/>
<polygon points="25,1377 43,1366 59,1366 47,1377 59,1388 43,1388" fill="#1f8bd0"/>
<polygon points="206,1377 188,1366 172,1366 184,1377 172,1388 188,1388" fill="#1f8bd0"/>
<text x="115" y="1385" font-size="24" font-weight="bold" text-anchor="middle" style="fill:#fff;font-family:'Liberation Serif',serif" textLength="78" lengthAdjust="spacingAndGlyphs">Co-Mac</text>
<text x="26" y="1423" font-size="12.5" font-weight="bold" font-style="italic" style="fill:#1f7cc4" textLength="181" lengthAdjust="spacingAndGlyphs">FOR HARD TO FIND HARDWARE</text>

<!-- footer text -->
<text x="252" y="1382" font-size="14" textLength="148" lengthAdjust="spacingAndGlyphs">PH  <tspan font-weight="bold">+64 (0) 6 350 0015</tspan></text>
<text x="252" y="1402" font-size="14" textLength="148" lengthAdjust="spacingAndGlyphs">FAX <tspan font-weight="bold">+64 (0) 6 278 0197</tspan></text>
<text x="252" y="1422" font-size="14" textLength="189" lengthAdjust="spacingAndGlyphs">Orders - <tspan font-weight="bold">orders@comac.co.nz</tspan></text>
<text x="487" y="1382" font-size="14" textLength="121" lengthAdjust="spacingAndGlyphs">PH  <tspan font-weight="bold">0800 33 55 22</tspan></text>
<text x="487" y="1409" font-size="9" textLength="141" lengthAdjust="spacingAndGlyphs">Prices subject to change without</text>
<text x="487" y="1421" font-size="9" textLength="121" lengthAdjust="spacingAndGlyphs">notification. All prices + GST</text>
<text x="697" y="1380" font-size="13" font-weight="bold" textLength="110" lengthAdjust="spacingAndGlyphs">Co-Mac Group Ltd</text>
<text x="697" y="1395" font-size="13" textLength="79" lengthAdjust="spacingAndGlyphs">5b Kerry Lane</text>
<text x="697" y="1410" font-size="13" textLength="76" lengthAdjust="spacingAndGlyphs">Hawera 4673</text>
<text x="697" y="1425" font-size="13" textLength="87" lengthAdjust="spacingAndGlyphs">NEW ZEALAND</text>
</svg>
</body></html>
